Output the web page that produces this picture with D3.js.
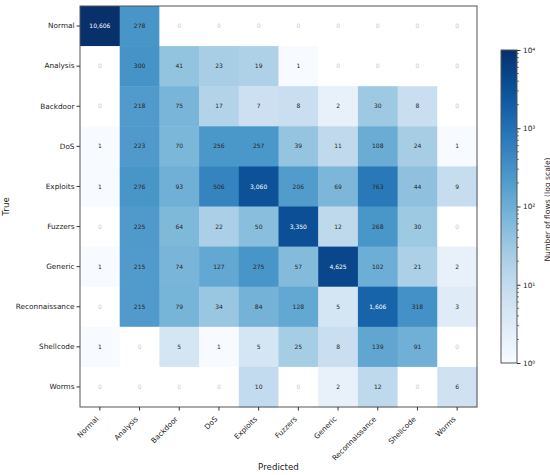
<!DOCTYPE html>
<html lang="en">
<head>
	<meta charset="utf-8">
	<script src="https://d3js.org/d3.v7.min.js"></script>
	<style type="text/css">
		body {
			margin: 0;
			background: #fff;
			font-family: "DejaVu Sans", sans-serif;
		}
	</style>
</head>
<body>
	<svg id="chart" width="550" height="475"></svg>
	<script type="text/javascript">
		// class labels (rows = true, columns = predicted)
		var classes = ["Normal", "Analysis", "Backdoor", "DoS", "Exploits", "Fuzzers",
			"Generic", "Reconnaissance", "Shellcode", "Worms"];

		var rowNormal = [10606, 278, 0, 0, 0, 0, 0, 0, 0, 0];
		var rowAnalysis = [0, 300, 41, 23, 19, 1, 0, 0, 0, 0];
		var rowBackdoor = [0, 218, 75, 17, 7, 8, 2, 30, 8, 0];
		var rowDoS = [1, 223, 70, 256, 257, 39, 11, 108, 24, 1];
		var rowExploits = [1, 276, 93, 506, 3060, 206, 69, 763, 44, 9];
		var rowFuzzers = [0, 225, 64, 22, 50, 3350, 12, 268, 30, 0];
		var rowGeneric = [1, 215, 74, 127, 275, 57, 4625, 102, 21, 2];
		var rowRecon = [0, 215, 79, 34, 84, 128, 5, 1606, 318, 3];
		var rowShellcode = [1, 0, 5, 1, 5, 25, 8, 139, 91, 0];
		var rowWorms = [0, 0, 0, 0, 10, 0, 2, 12, 0, 6];

		var matrix = [rowNormal, rowAnalysis, rowBackdoor, rowDoS, rowExploits,
			rowFuzzers, rowGeneric, rowRecon, rowShellcode, rowWorms];

		var cbarTicks = [1, 10, 100, 1000, 10000];
		var cbarTickLabels = ["10\u2070", "10\u00b9", "10\u00b2", "10\u00b3", "10\u2074"];

		var svg = d3.select("#chart");

		// plot box (note: "top" is reserved on window, so prefix these)
		var pLeft = 80, pTop = 6, pRight = 477, pBottom = 407;

		var x = d3.scaleBand().domain(classes).range([pLeft, pRight]);
		var y = d3.scaleBand().domain(classes).range([pTop, pBottom]);

		var color = d3.scaleSequentialLog(d3.interpolateBlues)
			.domain([1, 10000])
			.clamp(true);

		var cells = [];
		matrix.forEach(function (row, i) {
			row.forEach(function (v, j) {
				cells.push({ t: classes[i], p: classes[j], v: v });
			});
		});

		svg.append("g")
			.selectAll("rect")
			.data(cells)
			.enter()
			.append("rect")
			.attr("x", d => x(d.p))
			.attr("y", d => y(d.t))
			.attr("width", x.bandwidth() + 0.5)
			.attr("height", y.bandwidth() + 0.5)
			.style("fill", d => d.v > 0 ? color(d.v) : "#ffffff");

		var fmt = d3.format(",");
		svg.append("g")
			.selectAll("text")
			.data(cells)
			.enter()
			.append("text")
			.attr("x", d => x(d.p) + x.bandwidth() / 2)
			.attr("y", d => y(d.t) + y.bandwidth() / 2)
			.attr("dy", "0.35em")
			.attr("text-anchor", "middle")
			.attr("font-size", "6px")
			.style("fill", function (d) {
				if (d.v == 0) return "#c8c8c8";
				if (d.v >= 1000) return "#ffffff";
				return "#262626";
			})
			.text(d => fmt(d.v));

		// frame
		svg.append("rect")
			.attr("x", pLeft)
			.attr("y", pTop)
			.attr("width", pRight - pLeft)
			.attr("height", pBottom - pTop)
			.style("fill", "none")
			.style("stroke", "#555")
			.style("stroke-width", 1);

		// y axis
		var yAxis = svg.append("g")
			.attr("transform", "translate(" + pLeft + ",0)")
			.call(d3.axisLeft(y).tickSize(3.5).tickPadding(2));
		yAxis.select(".domain").remove();
		yAxis.selectAll("line").style("stroke", "#333");
		yAxis.selectAll("text")
			.attr("font-size", "7.3px")
			.attr("font-family", "DejaVu Sans")
			.style("fill", "#222");

		// x axis, labels rotated 45deg and ending at the tick
		var xAxis = svg.append("g")
			.attr("transform", "translate(0," + pBottom + ")")
			.call(d3.axisBottom(x).tickSize(3.5).tickPadding(2));
		xAxis.select(".domain").remove();
		xAxis.selectAll("line").style("stroke", "#333");
		xAxis.selectAll("text")
			.attr("font-size", "7.3px")
			.attr("font-family", "DejaVu Sans")
			.style("fill", "#222")
			.attr("text-anchor", "end")
			.attr("x", 0)
			.attr("y", 0)
			.attr("dy", "0")
			.attr("transform", "translate(-1,12.5) rotate(-45)");

		svg.append("text")
			.attr("x", (pLeft + pRight) / 2)
			.attr("y", 470)
			.attr("text-anchor", "middle")
			.attr("font-size", "8.7px")
			.style("fill", "#222")
			.text("Predicted");

		svg.append("text")
			.attr("transform", "translate(9," + (pTop + pBottom) / 2 + ") rotate(-90)")
			.attr("text-anchor", "middle")
			.attr("font-size", "8.7px")
			.style("fill", "#222")
			.text("True");

		// colorbar
		var cbX = 501, cbW = 16, cbTop = 50, cbBottom = 363;
		var cy = d3.scaleLog().domain([1, 10000]).range([cbBottom, cbTop]);

		var defs = svg.append("defs");
		var grad = defs.append("linearGradient")
			.attr("id", "cbgrad")
			.attr("x1", "0").attr("y1", "1")
			.attr("x2", "0").attr("y2", "0");
		d3.range(0, 1.0001, 0.05).forEach(function (t) {
			grad.append("stop")
				.attr("offset", t)
				.attr("stop-color", d3.interpolateBlues(t));
		});

		svg.append("rect")
			.attr("x", cbX)
			.attr("y", cbTop)
			.attr("width", cbW)
			.attr("height", cbBottom - cbTop)
			.style("fill", "url(#cbgrad)")
			.style("stroke", "#555")
			.style("stroke-width", 1);

		var minor = [];
		for (var e = 0; e < 4; e++) {
			for (var m = 2; m < 10; m++) minor.push(m * Math.pow(10, e));
		}
		svg.append("g")
			.selectAll("line")
			.data(minor)
			.enter()
			.append("line")
			.attr("x1", cbX + cbW)
			.attr("x2", cbX + cbW + 2)
			.attr("y1", d => cy(d))
			.attr("y2", d => cy(d))
			.style("stroke", "#333")
			.style("stroke-width", 0.6);

		var cbAxis = svg.append("g")
			.attr("transform", "translate(" + (cbX + cbW) + ",0)")
			.call(d3.axisRight(cy).tickValues(cbarTicks)
				.tickFormat((d, i) => cbarTickLabels[i])
				.tickSize(3.5).tickPadding(2.5));
		cbAxis.select(".domain").remove();
		cbAxis.selectAll("line").style("stroke", "#333");
		cbAxis.selectAll("text")
			.attr("font-size", "7.3px")
			.attr("font-family", "DejaVu Sans")
			.style("fill", "#222");

		svg.append("text")
			.attr("transform", "translate(549.5," + ((cbTop + cbBottom) / 2 + 3) + ") rotate(-90)")
			.attr("text-anchor", "middle")
			.attr("font-size", "7.6px")
			.style("fill", "#222")
			.text("Number of flows (log scale)");
	</script>
</body>
</html>
